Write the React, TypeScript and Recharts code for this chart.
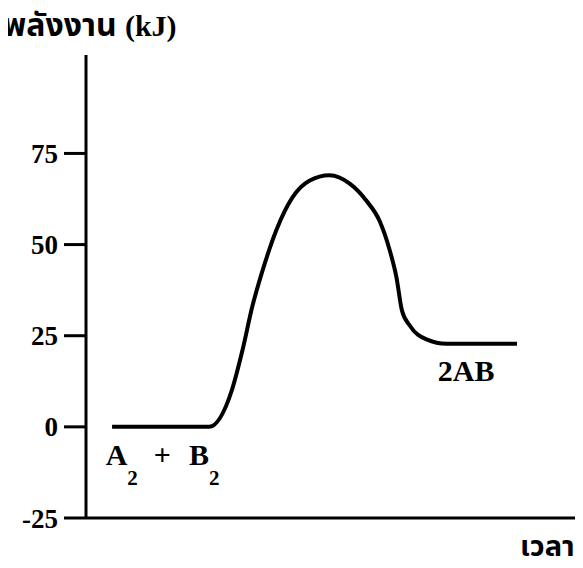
import React from "react";
import {
    LineChart,
    Line,
    XAxis,
    YAxis,
    ReferenceDot,
} from "recharts";

// time in arbitrary units (0-100 along the x axis)
const times = [5.3, 25, 29.7, 31.8, 33.8, 35.8, 38.7, 42, 45.4, 49.5, 53.6, 57, 59.7, 61.7, 63.1, 64.2, 65.8, 69.2, 73.3, 87.6];
const energy = [0, 0, 10.3, 21, 33, 42.5, 54, 63, 67.5, 69, 66.7, 62, 56.4, 48.6, 41, 32, 27.8, 24, 22.8, 22.8];
const yTicks = [-25, 0, 25, 50, 75];

const data = times.map((t, i) => ({ t, e: energy[i] }));

const serif = "'Liberation Serif', 'Times New Roman', serif";
const thai = "'Noto Sans Thai', 'Noto Sans', 'DejaVu Sans', sans-serif";

const ReactantLabel = (props: any) => {
    const { viewBox } = props;
    return (
        <text x={viewBox.x} y={viewBox.y} fontFamily={serif} fontWeight="bold" fontSize={30} fill="#000">
            <tspan>A</tspan>
            <tspan fontSize={21} dy={20}>2</tspan>
            <tspan dy={-20} dx={16}>+</tspan>
            <tspan dx={18}>B</tspan>
            <tspan fontSize={21} dy={20}>2</tspan>
        </text>
    );
};

const ProductLabel = (props: any) => {
    const { viewBox } = props;
    return (
        <text x={viewBox.x} y={viewBox.y} fontFamily={serif} fontWeight="bold" fontSize={30} fill="#000">
            2AB
        </text>
    );
};

export default function App() {
    return (
        <div style={{ position: "relative", width: 583, height: 568, margin: -8, background: "#fff" }}>
            <div
                style={{
                    position: "absolute",
                    left: 3,
                    top: 6,
                    fontFamily: thai,
                    fontWeight: "bold",
                    fontSize: 32,
                    lineHeight: 1.3,
                    whiteSpace: "nowrap",
                }}
            >
                พลังงาน <span style={{ fontFamily: serif, fontSize: 30 }}>(kJ)</span>
            </div>
            <div
                style={{
                    position: "absolute",
                    left: 520,
                    top: 530,
                    fontFamily: thai,
                    fontWeight: "bold",
                    fontSize: 29,
                    lineHeight: 1.2,
                    whiteSpace: "nowrap",
                }}
            >
                เวลา
            </div>
            <LineChart
                width={583}
                height={568}
                data={data}
                margin={{ top: 55, right: 5, left: 0, bottom: 48 }}
            >
                <XAxis
                    dataKey="t"
                    type="number"
                    domain={[0, 100]}
                    tick={false}
                    tickLine={false}
                    axisLine={{ stroke: "#000", strokeWidth: 3 }}
                    height={2}
                />
                <YAxis
                    type="number"
                    domain={[-25, 102]}
                    ticks={yTicks}
                    width={86}
                    tickSize={22}
                    tickMargin={6}
                    axisLine={{ stroke: "#000", strokeWidth: 3 }}
                    tickLine={{ stroke: "#000", strokeWidth: 3 }}
                    tick={{ fill: "#000", fontSize: 27, fontWeight: "bold", fontFamily: serif }}
                />
                <Line
                    type="monotone"
                    dataKey="e"
                    stroke="#000"
                    strokeWidth={4}
                    dot={false}
                    isAnimationActive={false}
                />
                <ReferenceDot x={4} y={-10.5} r={0} ifOverflow="visible" label={<ReactantLabel />} />
                <ReferenceDot x={71.5} y={12.5} r={0} ifOverflow="visible" label={<ProductLabel />} />
            </LineChart>
        </div>
    );
}
